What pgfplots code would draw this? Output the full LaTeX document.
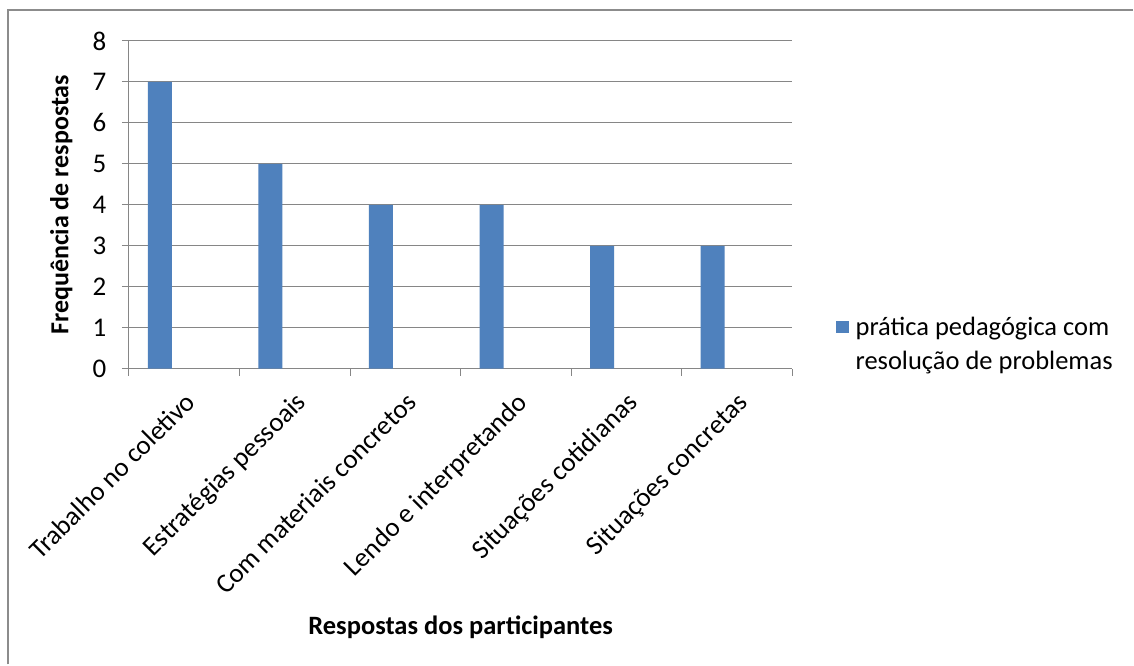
\documentclass[border=0pt]{standalone}
\usepackage{pgfplots}
\pgfplotsset{compat=1.18}
\usepackage{fontspec}
\setmainfont{Carlito}
\definecolor{barblue}{HTML}{4F81BD}
\definecolor{gridgray}{HTML}{868686}
\definecolor{framegray}{HTML}{8C8C8C}
\begin{document}
\begin{tikzpicture}[x=1pt,y=1pt]
\path[fill=white] (0,0) rectangle (1134,-665);
\draw[framegray, line width=2pt] (8,-665) -- (8,-10) -- (1134,-10);
\begin{axis}[
  at={(129pt,-369pt)}, anchor=south west,
  scale only axis, width=664pt, height=328pt,
  xmin=0, xmax=6, ymin=0, ymax=8,
  ytick={0,...,8},
  ymajorgrids, grid style={gridgray, line width=1pt},
  axis x line*=bottom, axis y line*=left,
  axis line style={gridgray, line width=1pt},
  x axis line style={-}, y axis line style={-},
  xtick={0.5,1.5,...,5.5},
  xticklabels={Trabalho no coletivo, Estratégias pessoais, Com materiais concretos, Lendo e interpretando, Situações cotidianas, Situações concretas},
  major x tick style={draw=none},
  minor xtick={0,1,...,6},
  minor tick length=7pt,
  minor x tick style={gridgray, line width=1pt},
  major tick length=7pt,
  tick align=outside,
  ytick style={gridgray, line width=1pt},
  tick label style={font=\fontsize{27}{32}\selectfont, black},
  /pgf/number format/assume math mode=true,
  xticklabel style={rotate=45, anchor=north east, inner sep=2pt, yshift=-8pt, xshift=-9pt},
  yticklabel style={xshift=-12pt},
  ylabel={\bfseries Frequência de respostas},
  ylabel style={font=\fontsize{26}{31}\selectfont, at={(rel axis cs:-0.102,0.5)}, anchor=center},
  xlabel={\bfseries Respostas dos participantes},
  xlabel style={font=\fontsize{26.5}{31}\selectfont, at={(rel axis cs:0.5,0)}, anchor=center, yshift=-259pt},
  legend style={draw=none, fill=none, at={(rel axis cs:1.065,0.165)}, anchor=north west, font=\fontsize{26.5}{31}\selectfont, row sep=10pt, legend cell align=left, inner sep=0pt,
    /tikz/every odd column/.append style={column sep=5pt}},
  legend image code/.code={\fill[#1] (0pt,-6pt) rectangle (13pt,6pt);},
  clip=false,
]
\addplot[ybar, bar width=24pt, fill=barblue, draw=none, bar shift=0pt]
  coordinates {(0.28,7) (1.28,5) (2.28,4) (3.28,4) (4.28,3) (5.28,3)};
\addlegendentry{prática pedagógica com}
\addlegendimage{empty legend}
\addlegendentry{resolução de problemas}
\end{axis}
\end{tikzpicture}
\end{document}
